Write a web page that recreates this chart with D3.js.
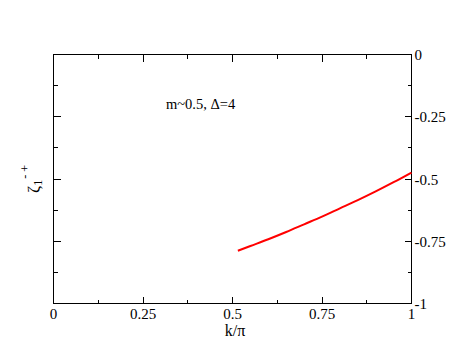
<!DOCTYPE html>
<html><head><meta charset="utf-8">
<script src="https://cdn.jsdelivr.net/npm/d3@7"></script>
<style>body{margin:0;background:#fff}svg text{font-family:"Liberation Serif","Times New Roman",serif;fill:#000}</style>
</head><body>
<script>
const kValues = [0.515, 0.55, 0.6, 0.65, 0.7, 0.75, 0.8, 0.85, 0.9, 0.95, 1.0];
const zetaValues = [-0.788, -0.769, -0.742, -0.713, -0.682, -0.651, -0.618, -0.585, -0.550, -0.513, -0.474];
const xTicks = [0, 0.25, 0.5, 0.75, 1];
const xTickLabels = ["0", "0.25", "0.5", "0.75", "1"];
const yTicks = [0, -0.25, -0.5, -0.75, -1];
const yTickLabels = ["0", "-0.25", "-0.5", "-0.75", "-1"];
const minorX = [0.125, 0.375, 0.625, 0.875];
const minorY = [-0.125, -0.375, -0.625, -0.875];

const W = 463, H = 358;
const svg = d3.select("body").append("svg").attr("width", W).attr("height", H);
const x = d3.scaleLinear().domain([0, 1]).range([53.5, 411.5]);
const y = d3.scaleLinear().domain([-1, 0]).range([303.5, 54.5]);

const g = svg.append("g").attr("shape-rendering", "crispEdges");
g.append("rect").attr("x", x(0)).attr("y", y(0)).attr("width", x(1) - x(0)).attr("height", y(-1) - y(0))
  .attr("fill", "none").attr("stroke", "#000").attr("stroke-width", 1);

const tickLine = (x1, y1, x2, y2) => g.append("line").attr("x1", x1).attr("y1", y1).attr("x2", x2).attr("y2", y2).attr("stroke", "#000").attr("stroke-width", 1);
xTicks.forEach(v => { tickLine(x(v), y(-1), x(v), y(-1) - 7); tickLine(x(v), y(0), x(v), y(0) + 7); });
minorX.forEach(v => { tickLine(x(v), y(-1), x(v), y(-1) - 4); tickLine(x(v), y(0), x(v), y(0) + 4); });
yTicks.forEach(v => { tickLine(x(0), y(v), x(0) + 7, y(v)); tickLine(x(1), y(v), x(1) - 7, y(v)); });
minorY.forEach(v => { tickLine(x(0), y(v), x(0) + 4, y(v)); tickLine(x(1), y(v), x(1) - 4, y(v)); });

const t = svg.append("g");
xTicks.forEach((v, i) => t.append("text").attr("x", x(v)).attr("y", 319).attr("text-anchor", "middle")
  .attr("font-size", 15).text(xTickLabels[i]));
yTicks.forEach((v, i) => t.append("text").attr("x", x(1) + 3).attr("y", y(v)).attr("dy", "0.38em")
  .attr("font-size", 15).text(yTickLabels[i]));

t.append("text").attr("x", 235).attr("y", 336).attr("text-anchor", "middle").attr("font-size", 16).text("k/π");
const yl = t.append("text").attr("transform", `translate(39,179) rotate(-90)`).attr("text-anchor", "middle").attr("font-size", 17);
yl.append("tspan").text("ζ");
yl.append("tspan").attr("font-size", 12).attr("dy", 3).text("1");
yl.append("tspan").attr("font-size", 12).attr("dy", -13).attr("dx", 1).text("- +");

t.append("text").attr("x", 166).attr("y", 109).attr("font-size", 14.5).text("m~0.5, Δ=4");

const pts = kValues.map((k, i) => [k, zetaValues[i]]);
svg.append("path").datum(pts)
  .attr("d", d3.line().x(d => x(d[0])).y(d => y(d[1])).curve(d3.curveMonotoneX))
  .attr("fill", "none").attr("stroke", "#ff0000").attr("stroke-width", 2);
</script>
</body></html>
